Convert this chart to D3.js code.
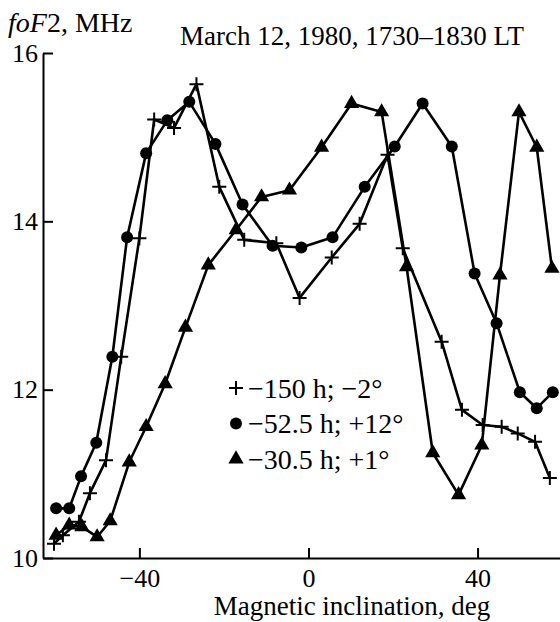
<!DOCTYPE html>
<html>
<head>
<meta charset="utf-8">
<script src="https://cdn.jsdelivr.net/npm/d3@7"></script>
<style>
  body { margin: 0; background: #fff; }
  svg text { font-family: "Liberation Serif", "DejaVu Serif", serif; fill: #000; }
</style>
</head>
<body>
<svg width="560" height="622"></svg>
<script>
// -150 h; -2 deg  (crosses)
var crossDeg = [-60.2, -58.1, -54.3, -51.7, -47.9, -44.3, -40.0, -36.5, -31.8, -26.5, -21.1, -15.2, -7.6, -2.1, 5.5, 12.1, 18.7, 22.3, 31.5, 36.3, 41.2, 45.7, 49.5, 53.6, 57.1];
var crossVal = [10.17, 10.27, 10.43, 10.77, 11.16, 12.39, 13.80, 15.21, 15.11, 15.63, 14.41, 13.78, 13.74, 13.09, 13.57, 13.97, 14.79, 13.68, 12.57, 11.76, 11.58, 11.56, 11.48, 11.38, 10.95];

// -52.5 h; +12 deg  (circles)
var dotDeg = [-59.7, -56.6, -53.8, -50.2, -46.4, -42.9, -38.4, -33.4, -28.2, -22.0, -15.6, -8.5, -1.7, 5.7, 13.3, 20.4, 27.0, 33.9, 39.3, 44.5, 50.0, 54.0, 57.8];
var dotVal = [10.59, 10.59, 10.97, 11.37, 12.39, 13.81, 14.81, 15.20, 15.42, 14.92, 14.20, 13.71, 13.69, 13.81, 14.41, 14.89, 15.40, 14.89, 13.38, 12.79, 11.97, 11.78, 11.97];

// -30.5 h; +1 deg  (triangles)
var triDeg = [-59.7, -56.6, -53.6, -50.0, -46.9, -42.4, -38.4, -33.9, -29.1, -23.7, -17.1, -11.1, -4.5, 3.1, 10.2, 17.3, 23.2, 29.4, 35.5, 41.0, 45.3, 49.8, 54.0, 57.6];
var triVal = [10.27, 10.39, 10.37, 10.25, 10.44, 11.14, 11.56, 12.07, 12.74, 13.48, 13.90, 14.29, 14.37, 14.88, 15.40, 15.30, 13.46, 11.25, 10.75, 11.34, 13.36, 15.30, 14.88, 13.44];

var legendLabels = ["\u2212150 h; \u22122\u00b0", "\u221252.5 h; +12\u00b0", "\u221230.5 h; +1\u00b0"];
var xTicks = [-40, 0, 40];
var yTicks = [10, 12, 14, 16];

var svg = d3.select("svg");

var x = d3.scaleLinear().domain([-62.8, 59.5]).range([43, 560]);
var y = d3.scaleLinear().domain([10, 16]).range([558, 53]);

var xAxis = svg.append("g")
  .attr("transform", "translate(0," + y(10) + ")")
  .call(d3.axisBottom(x).tickValues(xTicks).tickSizeInner(-10).tickSizeOuter(0).tickPadding(8)
    .tickFormat(function(d) { return d < 0 ? "\u2212" + Math.abs(d) : d; }));
xAxis.selectAll("text").attr("font-size", 26).attr("dy", "0.82em");

var yAxis = svg.append("g")
  .attr("transform", "translate(" + x.range()[0] + ",0)")
  .call(d3.axisLeft(y).tickValues(yTicks).tickFormat(d3.format("d"))
    .tickSizeInner(-10).tickSizeOuter(0).tickPadding(5));
yAxis.selectAll("text").attr("font-size", 26);
svg.selectAll(".domain, .tick line").attr("stroke", "#000").attr("stroke-width", 2);

function series(xs, ys) {
  return xs.map(function(d, i) { return { deg: d, val: ys[i] }; });
}
var crosses = series(crossDeg, crossVal);
var dots = series(dotDeg, dotVal);
var tris = series(triDeg, triVal);

var line = d3.line()
  .x(function(d) { return x(d.deg); })
  .y(function(d) { return y(d.val); });

[crosses, dots, tris].forEach(function(s) {
  svg.append("path")
    .datum(s)
    .attr("fill", "none")
    .attr("stroke", "#000")
    .attr("stroke-width", 2.6)
    .attr("stroke-linejoin", "round")
    .attr("d", line);
});

function plus(g) {
  g.append("path")
    .attr("d", "M-7,0H7M0,-7V7")
    .attr("stroke", "#000")
    .attr("stroke-width", 2);
}
function dot(g) {
  g.append("circle").attr("r", 6).attr("fill", "#000");
}
var triPath = d3.symbol().type(d3.symbolTriangle).size(100)();
function tri(g) {
  g.append("path").attr("d", triPath).attr("fill", "#000");
}

function marks(data, draw) {
  svg.append("g").selectAll("g")
    .data(data)
    .join("g")
    .attr("transform", function(d) { return "translate(" + x(d.deg) + "," + y(d.val) + ")"; })
    .each(function() { draw(d3.select(this)); });
}
marks(crosses, plus);
marks(dots, dot);
marks(tris, tri);

// legend
var drawers = [plus, dot, tri];
var legend = svg.append("g").attr("transform", "translate(236,388)");
legendLabels.forEach(function(lbl, i) {
  var row = legend.append("g").attr("transform", "translate(0," + (i * 35.5) + ")");
  drawers[i](row);
  row.append("text")
    .attr("x", 12)
    .attr("dy", "0.34em")
    .attr("font-size", 28)
    .text(lbl);
});

// titles
svg.append("text")
  .attr("x", 8).attr("y", 32)
  .attr("font-size", 28)
  .html('<tspan font-style="italic">foF</tspan>2, MHz');

svg.append("text")
  .attr("x", 180).attr("y", 45)
  .attr("font-size", 27)
  .text("March 12, 1980, 1730\u20131830 LT");

svg.append("text")
  .attr("x", 352).attr("y", 615)
  .attr("text-anchor", "middle")
  .attr("font-size", 27)
  .text("Magnetic inclination, deg");
</script>
</body>
</html>
